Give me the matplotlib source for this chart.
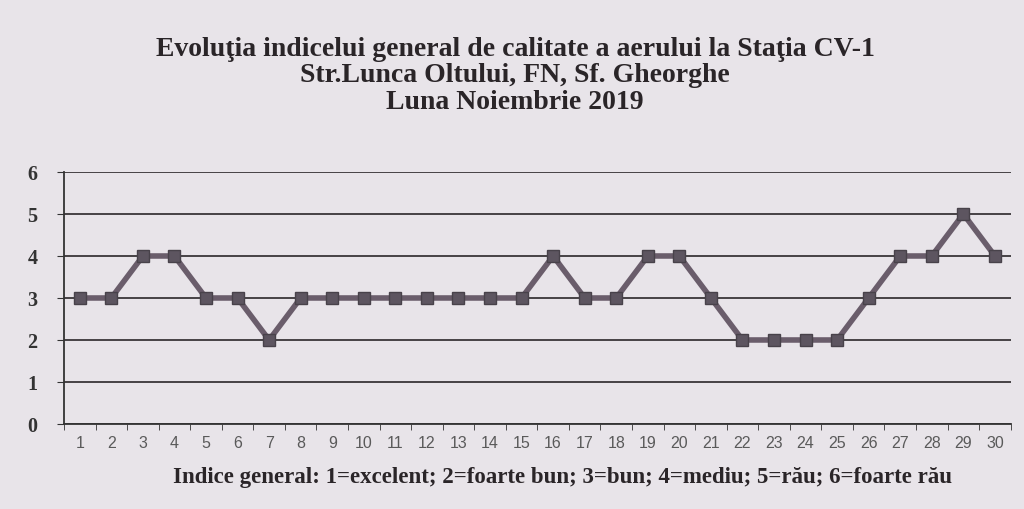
"""
Indicele general de calitate a aerului - Statia CV-1, noiembrie 2019
"""
import matplotlib.pyplot as plt
import numpy as np

zile = list(range(1, 31))
indice = [3, 3, 4, 4, 3, 3, 2, 3, 3, 3, 3, 3, 3, 3, 3,
          4, 3, 3, 4, 4, 3, 2, 2, 2, 2, 3, 4, 4, 5, 4]
yticks = [0, 1, 2, 3, 4, 5, 6]

titlu = ('Evoluţia indicelui general de calitate a aerului la Staţia CV-1\n'
         'Str.Lunca Oltului, FN, Sf. Gheorghe\n'
         'Luna Noiembrie 2019')
nota = 'Indice general: 1=excelent; 2=foarte bun; 3=bun; 4=mediu; 5=rău; 6=foarte rău'

bg = '#e8e4e9'
linecol = '#6a5d6b'

fig = plt.figure(figsize=(10.24, 5.1), dpi=100, facecolor=bg)
ax = fig.add_axes([0.0625, 0.1667, 0.9245, 0.4941], facecolor=bg)

ax.plot(zile, indice, color=linecol, lw=4, marker='s', ms=8,
        mfc='#5d5560', mec='#48424a', zorder=3)

ax.set_xlim(0.5, 30.5)
ax.set_ylim(0, 6)
ax.set_yticks(yticks)
ax.yaxis.grid(True, color='#3a3538', lw=1.3)
ax.set_axisbelow(True)

# ticks between categories, like the Excel chart
ax.set_xticks(zile)
ax.set_xticks(np.arange(0.5, 31, 1), minor=True)
ax.tick_params(axis='x', which='major', length=0, pad=8,
               labelsize=11.5, labelcolor='#5a5a5a')
ax.tick_params(axis='x', which='minor', length=4, color='#333333', direction='out')
ax.tick_params(axis='y', length=5, color='#333333', pad=14)
for lab in ax.get_yticklabels():
    lab.set_fontfamily('Liberation Serif')
    lab.set_fontsize(14.5)
    lab.set_fontweight('bold')
    lab.set_color('#333333')
for lab in ax.get_xticklabels():
    lab.set_fontfamily('Liberation Sans')

for s in ['top', 'right']:
    ax.spines[s].set_visible(False)
for s in ['left', 'bottom']:
    ax.spines[s].set_color('#333333')
    ax.spines[s].set_linewidth(1.3)

fig.text(0.503, 0.851, titlu, ha='center', va='center', fontsize=20,
         fontweight='bold', family='Liberation Serif', color='#2a2528',
         linespacing=1.07)
fig.text(0.549, 0.064, nota, ha='center', va='center', fontsize=16.5,
         fontweight='bold', family='Liberation Serif', color='#2a2528')

plt.savefig('out.png', dpi=100, facecolor=bg)
